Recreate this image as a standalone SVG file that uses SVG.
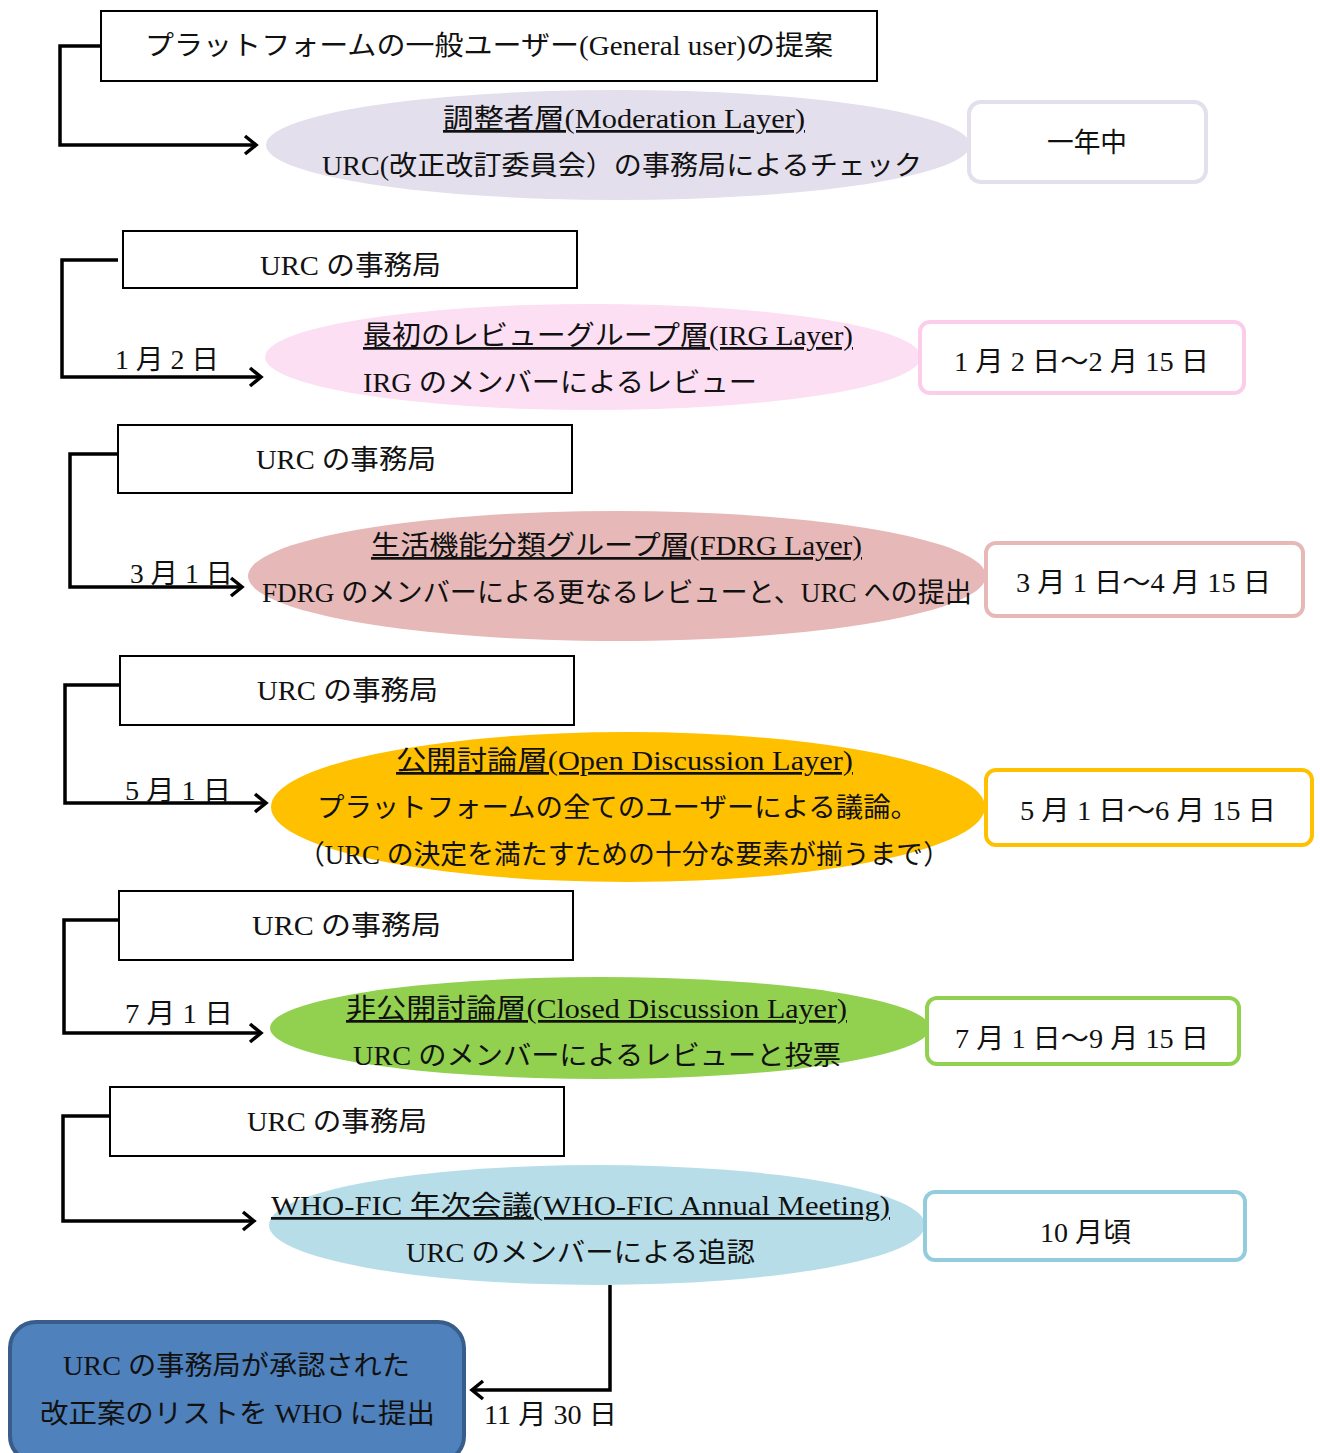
<svg xmlns="http://www.w3.org/2000/svg" width="1320" height="1453" viewBox="0 0 1320 1453">
<defs>
<marker id="arr" markerUnits="userSpaceOnUse" markerWidth="16" markerHeight="24" refX="12" refY="10" orient="auto" overflow="visible">
<path d="M1,1 L12,10 L1,19" fill="none" stroke="#000" stroke-width="3.5"/>
</marker>
<style>
text{font-family:"Liberation Serif","Noto Sans CJK JP",serif;font-size:27px;fill:#111;}
.box{fill:#fff;stroke:#000;stroke-width:2;}
.tag{fill:#fff;stroke-width:4;}
.con{fill:none;stroke:#000;stroke-width:3.5;}
.u{text-decoration:underline;}
</style>
</defs>
<rect width="1320" height="1453" fill="#fff"/>

<g id="connectors">
<polyline class="con" points="101,46 60,46 60,145 256,145" marker-end="url(#arr)"/>
<polyline class="con" points="118,260 62,260 62,377 261,377" marker-end="url(#arr)"/>
<polyline class="con" points="118,454 70,454 70,587 242,587" marker-end="url(#arr)"/>
<polyline class="con" points="120,685 65,685 65,803 266,803" marker-end="url(#arr)"/>
<polyline class="con" points="119,920 64,920 64,1033 261,1033" marker-end="url(#arr)"/>
<polyline class="con" points="110,1116 63,1116 63,1221 254,1221" marker-end="url(#arr)"/>
<polyline class="con" points="610,1285 610,1390 472,1390" marker-end="url(#arr)"/>
<text x="115" y="369" textLength="104" lengthAdjust="spacingAndGlyphs">1 月 2 日</text>
<text x="130" y="583" textLength="103" lengthAdjust="spacingAndGlyphs">3 月 1 日</text>
<text x="125" y="800" textLength="106" lengthAdjust="spacingAndGlyphs">5 月 1 日</text>
<text x="125" y="1023" textLength="108" lengthAdjust="spacingAndGlyphs">7 月 1 日</text>
<text x="484" y="1424" textLength="133" lengthAdjust="spacingAndGlyphs">11 月 30 日</text>
</g>

<g id="n-proposal">
<rect class="box" x="101" y="11" width="776" height="70"/>
<text x="145" y="55" textLength="688" lengthAdjust="spacingAndGlyphs">プラットフォームの一般ユーザー(General user)の提案</text>
</g>
<g id="n-moderation">
<ellipse cx="618" cy="145" rx="352" ry="55" fill="#e4dfec"/>
<text class="u" x="443" y="128" textLength="362" lengthAdjust="spacingAndGlyphs">調整者層(Moderation Layer)</text>
<text x="322" y="175" textLength="600" lengthAdjust="spacingAndGlyphs">URC(改正改訂委員会）の事務局によるチェック</text>
</g>
<g id="n-period1">
<rect class="tag" x="969" y="102" width="237" height="80" rx="12" stroke="#e4dfec"/>
<text x="1047" y="152" textLength="80" lengthAdjust="spacingAndGlyphs">一年中</text>
</g>

<g id="n-sec2">
<rect class="box" x="123" y="231" width="454" height="57"/>
<text x="260" y="275" textLength="181" lengthAdjust="spacingAndGlyphs">URC の事務局</text>
</g>
<g id="n-irg">
<ellipse cx="593" cy="357" rx="328" ry="53" fill="#fcdff3"/>
<text class="u" x="363" y="345" textLength="490" lengthAdjust="spacingAndGlyphs">最初のレビューグループ層(IRG Layer)</text>
<text x="363" y="392" textLength="394" lengthAdjust="spacingAndGlyphs">IRG のメンバーによるレビュー</text>
</g>
<g id="n-period2">
<rect class="tag" x="920" y="322" width="324" height="71" rx="10" stroke="#fbcdeb"/>
<text x="954" y="371" textLength="255" lengthAdjust="spacingAndGlyphs">1 月 2 日～2 月 15 日</text>
</g>

<g id="n-sec3">
<rect class="box" x="118" y="425" width="454" height="68"/>
<text x="256" y="469" textLength="180" lengthAdjust="spacingAndGlyphs">URC の事務局</text>
</g>
<g id="n-fdrg">
<ellipse cx="617" cy="576" rx="369" ry="65" fill="#e6b9b8"/>
<text class="u" x="371" y="555" textLength="491" lengthAdjust="spacingAndGlyphs">生活機能分類グループ層(FDRG Layer)</text>
<text x="262" y="602" textLength="710" lengthAdjust="spacingAndGlyphs">FDRG のメンバーによる更なるレビューと、URC への提出</text>
</g>
<g id="n-period3">
<rect class="tag" x="986" y="543" width="317" height="73" rx="10" stroke="#e6b9b8"/>
<text x="1016" y="592" textLength="255" lengthAdjust="spacingAndGlyphs">3 月 1 日～4 月 15 日</text>
</g>

<g id="n-sec4">
<rect class="box" x="120" y="656" width="454" height="69"/>
<text x="257" y="700" textLength="181" lengthAdjust="spacingAndGlyphs">URC の事務局</text>
</g>
<g id="n-open">
<ellipse cx="628" cy="807" rx="357" ry="75" fill="#ffc000"/>
<text class="u" x="396" y="770" textLength="457" lengthAdjust="spacingAndGlyphs">公開討論層(Open Discussion Layer)</text>
<text x="317" y="817" textLength="601" lengthAdjust="spacingAndGlyphs">プラットフォームの全てのユーザーによる議論。</text>
<text x="298" y="864" textLength="652" lengthAdjust="spacingAndGlyphs">（URC の決定を満たすための十分な要素が揃うまで）</text>
</g>
<g id="n-period4">
<rect class="tag" x="986" y="770" width="326" height="75" rx="10" stroke="#ffc000"/>
<text x="1020" y="820" textLength="256" lengthAdjust="spacingAndGlyphs">5 月 1 日～6 月 15 日</text>
</g>

<g id="n-sec5">
<rect class="box" x="119" y="891" width="454" height="69"/>
<text x="252" y="935" textLength="189" lengthAdjust="spacingAndGlyphs">URC の事務局</text>
</g>
<g id="n-closed">
<ellipse cx="600" cy="1028" rx="330" ry="51" fill="#92d050"/>
<text class="u" x="346" y="1018" textLength="501" lengthAdjust="spacingAndGlyphs">非公開討論層(Closed Discussion Layer)</text>
<text x="353" y="1065" textLength="488" lengthAdjust="spacingAndGlyphs">URC のメンバーによるレビューと投票</text>
</g>
<g id="n-period5">
<rect class="tag" x="927" y="998" width="312" height="66" rx="10" stroke="#92d050"/>
<text x="955" y="1048" textLength="254" lengthAdjust="spacingAndGlyphs">7 月 1 日～9 月 15 日</text>
</g>

<g id="n-sec6">
<rect class="box" x="110" y="1087" width="454" height="69"/>
<text x="247" y="1131" textLength="180" lengthAdjust="spacingAndGlyphs">URC の事務局</text>
</g>
<g id="n-annual">
<ellipse cx="597" cy="1225" rx="328" ry="60" fill="#b7dee8"/>
<text class="u" x="271" y="1215" textLength="619" lengthAdjust="spacingAndGlyphs">WHO-FIC 年次会議(WHO-FIC Annual Meeting)</text>
<text x="406" y="1262" textLength="349" lengthAdjust="spacingAndGlyphs">URC のメンバーによる追認</text>
</g>
<g id="n-period6">
<rect class="tag" x="925" y="1192" width="320" height="68" rx="10" stroke="#93cddd"/>
<text x="1040" y="1242" textLength="91" lengthAdjust="spacingAndGlyphs">10 月頃</text>
</g>

<g id="n-submit">
<rect x="10" y="1322" width="454" height="140" rx="26" fill="#4f81bd" stroke="#385d8a" stroke-width="4"/>
<text x="63" y="1375" textLength="347" lengthAdjust="spacingAndGlyphs">URC の事務局が承認された</text>
<text x="40" y="1423" textLength="395" lengthAdjust="spacingAndGlyphs">改正案のリストを WHO に提出</text>
</g>
</svg>
